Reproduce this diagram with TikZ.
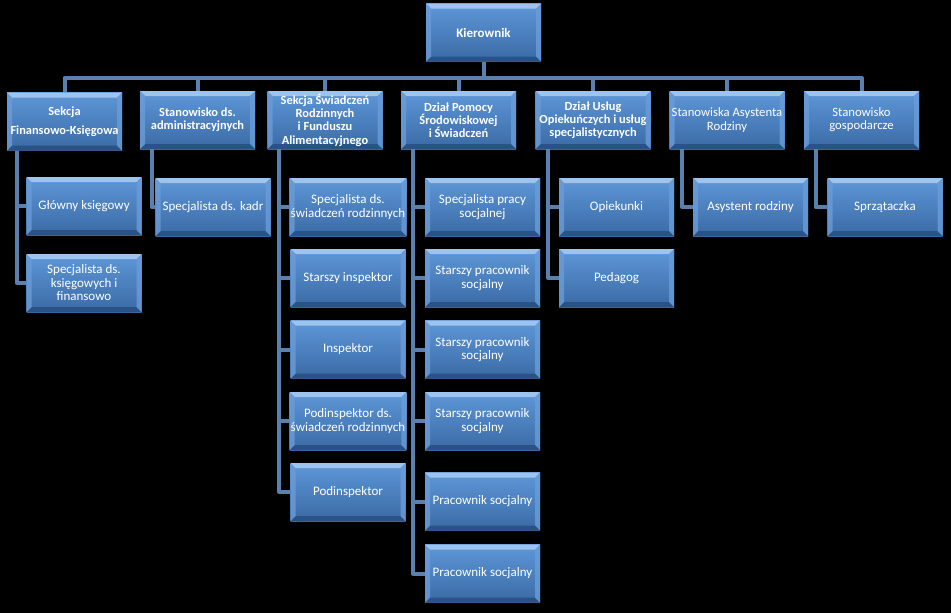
\documentclass[tikz,border=0pt]{standalone}
\usepackage{fontspec}
\setmainfont{Carlito}
\usepackage{xcolor}
\usepackage{tikz}
\definecolor{bg}{HTML}{000000}
\definecolor{boxtop}{HTML}{5E97D8}
\definecolor{boxbot}{HTML}{3A6AA5}
\definecolor{bevhi}{HTML}{9CC4EF}
\definecolor{bevside}{HTML}{6A9CD8}
\definecolor{bevlo}{HTML}{2B5284}
\definecolor{line}{HTML}{5A80AE}
\tikzset{
  box/.style={top color=boxtop, bottom color=boxbot, text=white,
    minimum width=115pt, minimum height=58pt, inner sep=1pt, align=center,
    font=\fontsize{13}{13.5}\selectfont,
    path picture={
      \fill[bevhi] (path picture bounding box.north west) -- (path picture bounding box.north east)
        -- ([shift={(-5pt,-5pt)}]path picture bounding box.north east) -- ([shift={(5pt,-5pt)}]path picture bounding box.north west) -- cycle;
      \fill[bevlo] (path picture bounding box.south west) -- (path picture bounding box.south east)
        -- ([shift={(-5pt,5pt)}]path picture bounding box.south east) -- ([shift={(5pt,5pt)}]path picture bounding box.south west) -- cycle;
      \fill[bevside, opacity=0.8] (path picture bounding box.north west) -- ([shift={(5pt,-5pt)}]path picture bounding box.north west)
        -- ([shift={(5pt,5pt)}]path picture bounding box.south west) -- (path picture bounding box.south west) -- cycle;
      \fill[bevside, opacity=0.8] (path picture bounding box.north east) -- ([shift={(-5pt,-5pt)}]path picture bounding box.north east)
        -- ([shift={(-5pt,5pt)}]path picture bounding box.south east) -- (path picture bounding box.south east) -- cycle;
    }},
  head/.style={box, font=\fontsize{12.4}{13.3}\selectfont\bfseries},
  plain/.style={box, font=\fontsize{12.7}{13.3}\selectfont},
  conn/.style={draw=line, line width=4pt, line join=round},
}

\begin{document}
\begin{tikzpicture}[x=1pt,y=-1pt]
  \fill[bg] (0,0) rectangle (951,613);
  \useasboundingbox (0,0) rectangle (951,613);

  % kierownik i szyna
  \node[box, font=\fontsize{13}{14}\selectfont\bfseries] (kier) at (483.5,32.5) {Kierownik};
  \coordinate (bus) at (483.5,78);

  % poziom 1
  \node[head] (sfk) at (64.5,121.5) {Sekcja\\[6pt]Finansowo-Księgowa};
  \node[head] (sadm) at (197.5,120) {Stanowisko ds.\\administracyjnych};
  \node[head] (sswr) at (325,120) {Sekcja Świadczeń\\Rodzinnych\\i Funduszu\\Alimentacyjnego};
  \node[head] (dpom) at (458.5,120) {Dział Pomocy\\Środowiskowej\\i Świadczeń};
  \node[head] (duslug) at (593,120) {Dział Usług\\Opiekuńczych i usług\\specjalistycznych};
  \node[plain] (sasr) at (727,120) {Stanowiska Asystenta\\Rodziny};
  \node[plain] (sgosp) at (861.5,120) {Stanowisko\\gospodarcze};

  % poziom 2
  \node[box] (sfk1) at (84,206) {Główny księgowy};
  \node[box] (sfk2) at (84,283) {Specjalista ds.\\księgowych i\\finansowo};
  \node[box] (sadm1) at (213,207) {Specjalista ds. kadr};
  \node[box] (sswr1) at (348,207) {Specjalista ds.\\świadczeń rodzinnych};
  \node[box] (sswr2) at (348,278) {Starszy inspektor};
  \node[box] (sswr3) at (348,349.5) {Inspektor};
  \node[box] (sswr4) at (348,421) {Podinspektor ds.\\świadczeń rodzinnych};
  \node[box] (sswr5) at (348,492) {Podinspektor};
  \node[box] (dpom1) at (482.5,207) {Specjalista pracy\\socjalnej};
  \node[box] (dpom2) at (482.5,278) {Starszy pracownik\\socjalny};
  \node[box] (dpom3) at (482.5,349.5) {Starszy pracownik\\socjalny};
  \node[box] (dpom4) at (482.5,421) {Starszy pracownik\\socjalny};
  \node[box] (dpom5) at (482.5,501.5) {Pracownik socjalny};
  \node[box] (dpom6) at (482.5,573.5) {Pracownik socjalny};
  \node[box] (duslug1) at (616.5,207) {Opiekunki};
  \node[box] (duslug2) at (616.5,278) {Pedagog};
  \node[box] (sasr1) at (750.5,207) {Asystent rodziny};
  \node[box] (sgosp1) at (885,207) {Sprzątaczka};

  % linie
  \draw[conn] (kier) -- (bus);
  \foreach \n in {sfk,sadm,sswr,dpom,duslug,sasr,sgosp}
    \draw[conn] (\n.north) |- (bus);
  \foreach \c in {1,2}
    \draw[conn] ([xshift=10pt]sfk.south west) |- (sfk\c.west);
  \draw[conn] ([xshift=12pt]sadm.south west) |- (sadm1.west);
  \foreach \c in {1,...,5}
    \draw[conn] ([xshift=12pt]sswr.south west) |- (sswr\c.west);
  \foreach \c in {1,...,6}
    \draw[conn] ([xshift=12pt]dpom.south west) |- (dpom\c.west);
  \foreach \c in {1,2}
    \draw[conn] ([xshift=13pt]duslug.south west) |- (duslug\c.west);
  \draw[conn] ([xshift=13pt]sasr.south west) |- (sasr1.west);
  \draw[conn] ([xshift=12pt]sgosp.south west) |- (sgosp1.west);
\end{tikzpicture}
\end{document}
